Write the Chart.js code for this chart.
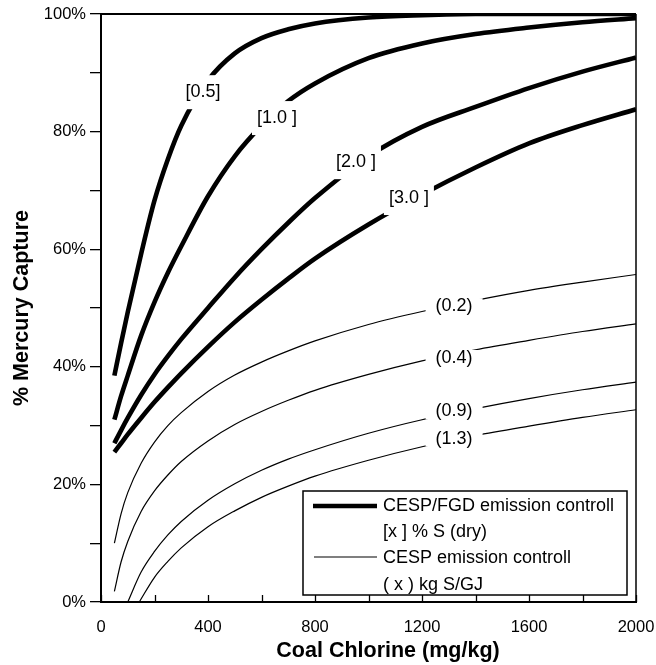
<!DOCTYPE html>
<html><head><meta charset="utf-8">
<script src="https://cdn.jsdelivr.net/npm/chart.js@4/dist/chart.umd.min.js"></script>
<style>html,body{margin:0;padding:0;background:#fff}#wrap{width:656px;height:665px}</style>
</head><body><div id="wrap"><canvas id="c" width="656" height="665"></canvas></div>
<script>
// ---- data ----
const xs = [50,75,100,150,200,250,300,400,500,600,700,800,1000,1200,1400,1600,1800,2000];
// CESP/FGD, [x] % S (dry)
const fgd05 = [38.5,44,49.3,59.2,68.3,75.3,81,88.7,93.3,95.9,97.4,98.4,99.4,99.8,100,100,100,100];
const fgd10 = [31,35,38.5,45.3,51,56,60.5,69,75.8,81,85.2,88.2,92.5,95,96.6,97.7,98.6,99.3];
const fgd20 = [27,29.2,31.3,35.2,38.7,41.8,44.7,50,55.2,60,64.5,68.7,75.8,80.8,84.2,87.4,90.2,92.6];
const fgd30 = [25.5,27,28.5,31.3,34,36.5,38.9,43.4,47.6,51.4,55,58.4,64.2,69.3,73.9,78,81.1,83.8];
// CESP, (x) kg S/GJ
const cesp02 = [10,15,18.6,23.6,27.2,30,32.2,35.8,38.6,40.8,42.7,44.4,47.2,49.4,51.3,53,54.4,55.7];
const cesp04 = [1.8,6.8,10.3,15.4,18.9,21.6,23.9,27.4,30.2,32.4,34.3,36,38.7,41,42.9,44.5,46,47.3];
const xs09 = [100,150,200,250,300,400,500,600,700,800,1000,1200,1400,1600,1800,2000];
const cesp09 = [0,5.1,8.6,11.4,13.7,17.3,20.1,22.4,24.3,25.9,28.7,31,32.9,34.6,36.1,37.4];
const xs13 = [143,200,250,300,400,500,600,700,800,1000,1200,1400,1600,1800,2000];
const cesp13 = [0,4.2,6.9,9.2,12.8,15.5,17.8,19.7,21.4,24.1,26.4,28.3,29.9,31.4,32.7];
// curve labels
const curveLabels = ['[0.5]','[1.0 ]','[2.0 ]','[3.0 ]','(0.2)','(0.4)','(0.9)','(1.3)'];
const curveLabelX = [381,658,953,1151,1320,1320,1320,1320];
const curveLabelY = [86.7,82.3,74.8,68.7,50.3,41.5,32.4,27.8];
const curveLabelThick = [true,true,true,true,false,false,false,false];
// axes
const xTitle = 'Coal Chlorine (mg/kg)';
const yTitle = '% Mercury Capture';
const legendLines = ['CESP/FGD emission controll','[x ] % S (dry)','CESP emission controll','( x ) kg S/GJ'];

const FONT = '"Liberation Sans", Arial, Helvetica, sans-serif';
const pts = (xa, ya) => xa.map((v,i)=>({x:v,y:ya[i]}));
const thick = (d) => ({data:d, borderColor:'#000', borderWidth:4.6, pointRadius:0, fill:false, cubicInterpolationMode:'monotone', borderCapStyle:'butt'});
const thin = (d) => ({data:d, borderColor:'#000', borderWidth:1.2, pointRadius:0, fill:false, cubicInterpolationMode:'monotone'});

const decor = {
  id:'decor',
  afterDatasetsDraw(chart){
    const {ctx, scales:{x,y}} = chart;
    ctx.save();
    ctx.font = '18px ' + FONT;
    ctx.textAlign = 'center'; ctx.textBaseline = 'middle';
    curveLabels.forEach((t,i)=>{
      const px = x.getPixelForValue(curveLabelX[i]);
      const py = y.getPixelForValue(curveLabelY[i]);
      const w = ctx.measureText(t).width;
      const thickL = curveLabelThick[i];
      const padX = thickL ? 5 : 10;
      const h = thickL ? 34 : 16;
      ctx.fillStyle = '#fff';
      ctx.fillRect(px - w/2 - padX, py - h/2, w + 2*padX, h);
      ctx.fillStyle = '#000';
      ctx.fillText(t, px, py);
    });
    ctx.restore();
  },
  afterDraw(chart){
    const {ctx, chartArea:a, scales:{x,y}} = chart;
    ctx.save();
    ctx.strokeStyle = '#000';
    // frame (top & right)
    ctx.lineWidth = 2;
    ctx.beginPath(); ctx.moveTo(a.left, a.top); ctx.lineTo(a.right, a.top); ctx.stroke();
    ctx.lineWidth = 1.5;
    ctx.beginPath(); ctx.moveTo(a.right, a.top); ctx.lineTo(a.right, a.bottom); ctx.stroke();
    // x ticks pointing inside
    ctx.lineWidth = 1.3;
    x.ticks.forEach(t=>{
      const px = Math.round(x.getPixelForValue(t.value)) + 0.5;
      ctx.beginPath(); ctx.moveTo(px, a.bottom); ctx.lineTo(px, a.bottom - 7); ctx.stroke();
    });
    // legend
    const lx0 = 303, ly0 = 491, lx1 = 627, ly1 = 595;
    ctx.fillStyle = '#fff';
    ctx.fillRect(lx0, ly0, lx1-lx0, ly1-ly0);
    ctx.lineWidth = 1.5;
    ctx.strokeRect(lx0, ly0, lx1-lx0, ly1-ly0);
    ctx.lineWidth = 4.6;
    ctx.beginPath(); ctx.moveTo(313, 506); ctx.lineTo(377, 506); ctx.stroke();
    ctx.lineWidth = 1.2;
    ctx.beginPath(); ctx.moveTo(314, 557); ctx.lineTo(377, 557); ctx.stroke();
    ctx.fillStyle = '#000';
    ctx.font = '18px ' + FONT;
    ctx.textAlign = 'left'; ctx.textBaseline = 'middle';
    const rowY = [506, 532, 558, 585];
    legendLines.forEach((t,i)=>ctx.fillText(t, 383, rowY[i]));
    // axis titles
    ctx.font = 'bold 21.5px ' + FONT;
    ctx.textAlign = 'center'; ctx.textBaseline = 'middle';
    ctx.fillText(xTitle, 388, 651);
    ctx.translate(22, (a.top + a.bottom)/2);
    ctx.rotate(-Math.PI/2);
    ctx.fillText(yTitle, 0, 0);
    ctx.restore();
  }
};

new Chart(document.getElementById('c'), {
  type:'line',
  data:{datasets:[
    thick(pts(xs,fgd05)), thick(pts(xs,fgd10)), thick(pts(xs,fgd20)), thick(pts(xs,fgd30)),
    thin(pts(xs,cesp02)), thin(pts(xs,cesp04)), thin(pts(xs09,cesp09)), thin(pts(xs13,cesp13))
  ]},
  options:{
    responsive:false, animation:false, devicePixelRatio:1,
    layout:{padding:{left:0,right:20,top:14,bottom:0}},
    plugins:{legend:{display:false}, tooltip:{enabled:false}},
    scales:{
      x:{type:'linear', min:0, max:2000,
        afterFit(s){ s.height = 63; s.paddingLeft = 0; s.paddingRight = 0; },
        ticks:{stepSize:200, autoSkip:false, maxRotation:0, padding:16, color:'#000',
          font:{size:16.5, family:FONT},
          callback:(v)=> v % 400 === 0 ? String(v) : ''},
        grid:{display:false, drawTicks:false},
        border:{display:true, color:'#000', width:2}
      },
      y:{min:0, max:100,
        afterFit(s){ s.width = 101; },
        ticks:{stepSize:10, autoSkip:false, padding:4, color:'#000',
          font:{size:16.5, family:FONT},
          callback:(v)=> v % 20 === 0 ? v + '%' : ''},
        grid:{display:true, drawOnChartArea:false, drawTicks:true, tickLength:11, color:'#000', lineWidth:1.3},
        border:{display:true, color:'#000', width:2}
      }
    }
  },
  plugins:[decor]
});
</script></body></html>
